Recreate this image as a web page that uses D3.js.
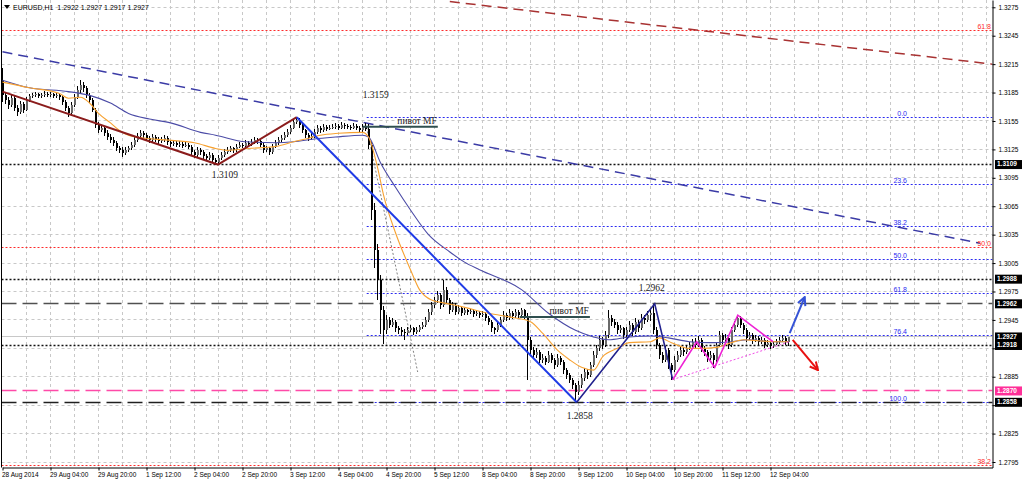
<!DOCTYPE html>
<html><head><meta charset="utf-8">
<script src="https://cdn.jsdelivr.net/npm/d3@7"></script>
<style>html,body{margin:0;padding:0;background:#fff;} svg{display:block;}</style>
</head><body><svg id="c" width="1024" height="482"></svg>
<script>
// ---------------- DATA ----------------
const symbol = "EURUSD,H1";
const timeLabels = ["28 Aug 2014","29 Aug 04:00","29 Aug 20:00","1 Sep 12:00","2 Sep 04:00","2 Sep 20:00","3 Sep 12:00","4 Sep 04:00","4 Sep 20:00","5 Sep 12:00","8 Sep 04:00","8 Sep 20:00","9 Sep 12:00","10 Sep 04:00","10 Sep 20:00","11 Sep 12:00","12 Sep 04:00"];
const timeLabelBars = [0,16,32,48,64,80,96,112,128,144,160,176,192,208,224,240,256];
const priceTicks = [1.2795,1.2825,1.2855,1.2885,1.2915,1.2945,1.2975,1.3005,1.3035,1.3065,1.3095,1.3125,1.3155,1.3185,1.3215,1.3245,1.3275];

// hourly candles [open, high, low, close]
const ohlc = [
[1.3198,1.3211,1.3175,1.3182],[1.3182,1.3186,1.3173,1.3177],[1.3177,1.3180,1.3168,1.3172],[1.3172,1.3183,1.3170,1.3179],[1.3179,1.3181,1.3165,1.3169],
[1.3169,1.3172,1.3160,1.3164],[1.3164,1.3176,1.3162,1.3173],[1.3173,1.3175,1.3163,1.3167],[1.3167,1.3180,1.3165,1.3177],[1.3177,1.3184,1.3175,1.3181],
[1.3181,1.3185,1.3179,1.3182],[1.3182,1.3186,1.3180,1.3183],[1.3183,1.3185,1.3179,1.3181],[1.3181,1.3185,1.3179,1.3182],[1.3182,1.3187,1.3180,1.3184],
[1.3184,1.3186,1.3180,1.3182],[1.3182,1.3186,1.3180,1.3183],[1.3183,1.3185,1.3179,1.3181],[1.3181,1.3185,1.3179,1.3182],[1.3182,1.3184,1.3177,1.3180],
[1.3180,1.3182,1.3172,1.3175],[1.3175,1.3177,1.3166,1.3169],[1.3169,1.3171,1.3159,1.3163],[1.3163,1.3175,1.3161,1.3172],[1.3172,1.3184,1.3170,1.3180],
[1.3180,1.3192,1.3178,1.3188],[1.3188,1.3198,1.3185,1.3193],[1.3193,1.3196,1.3186,1.3190],[1.3190,1.3192,1.3179,1.3182],[1.3182,1.3185,1.3174,1.3177],
[1.3177,1.3179,1.3164,1.3167],[1.3167,1.3169,1.3148,1.3151],[1.3151,1.3154,1.3142,1.3145],[1.3145,1.3151,1.3143,1.3148],[1.3148,1.3150,1.3139,1.3142],
[1.3142,1.3145,1.3135,1.3138],[1.3138,1.3141,1.3132,1.3135],[1.3135,1.3138,1.3129,1.3132],[1.3132,1.3134,1.3123,1.3126],[1.3126,1.3129,1.3121,1.3124],
[1.3124,1.3127,1.3117,1.3121],[1.3121,1.3127,1.3119,1.3124],[1.3124,1.3129,1.3122,1.3126],[1.3126,1.3133,1.3124,1.3130],[1.3130,1.3138,1.3128,1.3135],
[1.3135,1.3142,1.3133,1.3139],[1.3139,1.3145,1.3137,1.3142],[1.3142,1.3144,1.3137,1.3140],[1.3140,1.3142,1.3134,1.3137],[1.3137,1.3139,1.3132,1.3135],
[1.3135,1.3141,1.3133,1.3138],[1.3138,1.3140,1.3133,1.3136],[1.3136,1.3138,1.3131,1.3134],[1.3134,1.3138,1.3132,1.3135],[1.3135,1.3140,1.3133,1.3137],
[1.3137,1.3139,1.3130,1.3133],[1.3133,1.3135,1.3128,1.3131],[1.3131,1.3135,1.3129,1.3132],[1.3132,1.3134,1.3127,1.3130],[1.3130,1.3134,1.3128,1.3131],
[1.3131,1.3133,1.3126,1.3129],[1.3129,1.3133,1.3127,1.3130],[1.3130,1.3132,1.3125,1.3128],[1.3128,1.3130,1.3119,1.3122],[1.3122,1.3124,1.3116,1.3119],
[1.3119,1.3127,1.3117,1.3124],[1.3124,1.3126,1.3119,1.3122],[1.3122,1.3124,1.3115,1.3118],[1.3118,1.3120,1.3113,1.3116],[1.3116,1.3122,1.3114,1.3119],
[1.3119,1.3121,1.3111,1.3114],[1.3114,1.3116,1.3109,1.3112],[1.3112,1.3119,1.3109,1.3116],[1.3116,1.3122,1.3114,1.3119],[1.3119,1.3125,1.3117,1.3122],
[1.3122,1.3127,1.3120,1.3124],[1.3124,1.3129,1.3122,1.3126],[1.3126,1.3128,1.3121,1.3124],[1.3124,1.3131,1.3122,1.3128],[1.3128,1.3133,1.3126,1.3130],
[1.3130,1.3132,1.3126,1.3129],[1.3129,1.3135,1.3127,1.3132],[1.3132,1.3134,1.3128,1.3131],[1.3131,1.3136,1.3129,1.3133],[1.3133,1.3138,1.3131,1.3135],
[1.3135,1.3137,1.3131,1.3134],[1.3134,1.3136,1.3127,1.3130],[1.3130,1.3132,1.3121,1.3124],[1.3124,1.3129,1.3122,1.3126],[1.3126,1.3128,1.3119,1.3122],
[1.3122,1.3131,1.3120,1.3128],[1.3128,1.3135,1.3126,1.3132],[1.3132,1.3138,1.3130,1.3135],[1.3135,1.3140,1.3133,1.3137],[1.3137,1.3143,1.3135,1.3140],
[1.3140,1.3146,1.3138,1.3143],[1.3143,1.3151,1.3141,1.3148],[1.3148,1.3157,1.3146,1.3154],[1.3154,1.3159,1.3152,1.3156],[1.3156,1.3158,1.3148,1.3151],
[1.3151,1.3153,1.3142,1.3145],[1.3145,1.3147,1.3137,1.3140],[1.3140,1.3142,1.3134,1.3137],[1.3137,1.3142,1.3135,1.3139],[1.3139,1.3146,1.3137,1.3143],
[1.3143,1.3151,1.3141,1.3148],[1.3148,1.3150,1.3142,1.3145],[1.3145,1.3152,1.3143,1.3149],[1.3149,1.3151,1.3144,1.3147],[1.3147,1.3151,1.3145,1.3148],
[1.3148,1.3152,1.3146,1.3149],[1.3149,1.3153,1.3147,1.3150],[1.3150,1.3152,1.3145,1.3148],[1.3148,1.3154,1.3146,1.3151],[1.3151,1.3153,1.3147,1.3150],
[1.3150,1.3152,1.3146,1.3149],[1.3149,1.3151,1.3145,1.3148],[1.3148,1.3153,1.3146,1.3150],[1.3150,1.3152,1.3145,1.3148],[1.3148,1.3150,1.3142,1.3145],
[1.3145,1.3152,1.3143,1.3149],[1.3149,1.3153,1.3144,1.3147],[1.3147,1.3152,1.3125,1.3130],[1.3130,1.3133,1.3050,1.3061],[1.3061,1.3068,1.3000,1.3019],
[1.3019,1.3025,1.2966,1.2987],[1.2987,1.2992,1.2930,1.2955],[1.2955,1.2960,1.2920,1.2934],[1.2934,1.2950,1.2930,1.2945],[1.2945,1.2948,1.2936,1.2940],
[1.2940,1.2947,1.2937,1.2943],[1.2943,1.2945,1.2932,1.2936],[1.2936,1.2939,1.2930,1.2934],[1.2934,1.2937,1.2928,1.2932],[1.2932,1.2935,1.2924,1.2931],
[1.2931,1.2938,1.2929,1.2934],[1.2934,1.2940,1.2932,1.2936],[1.2936,1.2938,1.2929,1.2932],[1.2932,1.2937,1.2930,1.2934],[1.2934,1.2940,1.2932,1.2937],
[1.2937,1.2943,1.2935,1.2940],[1.2940,1.2948,1.2938,1.2945],[1.2945,1.2956,1.2943,1.2953],[1.2953,1.2964,1.2950,1.2961],[1.2961,1.2969,1.2958,1.2966],
[1.2966,1.2975,1.2963,1.2971],[1.2971,1.2973,1.2957,1.2961],[1.2961,1.2987,1.2959,1.2977],[1.2977,1.2980,1.2962,1.2966],[1.2966,1.2968,1.2951,1.2955],
[1.2955,1.2964,1.2953,1.2961],[1.2961,1.2963,1.2950,1.2953],[1.2953,1.2961,1.2951,1.2958],[1.2958,1.2960,1.2949,1.2952],[1.2952,1.2958,1.2950,1.2955],
[1.2955,1.2957,1.2950,1.2953],[1.2953,1.2957,1.2951,1.2954],[1.2954,1.2956,1.2948,1.2951],[1.2951,1.2955,1.2949,1.2952],[1.2952,1.2954,1.2947,1.2950],
[1.2950,1.2954,1.2948,1.2951],[1.2951,1.2953,1.2944,1.2947],[1.2947,1.2949,1.2940,1.2943],[1.2943,1.2945,1.2932,1.2936],[1.2936,1.2938,1.2930,1.2934],
[1.2934,1.2943,1.2932,1.2940],[1.2940,1.2948,1.2938,1.2945],[1.2945,1.2954,1.2943,1.2950],[1.2950,1.2952,1.2944,1.2947],[1.2947,1.2956,1.2945,1.2952],
[1.2952,1.2954,1.2946,1.2949],[1.2949,1.2957,1.2947,1.2953],[1.2953,1.2955,1.2947,1.2950],[1.2950,1.2958,1.2948,1.2955],[1.2955,1.2957,1.2946,1.2949],
[1.2949,1.2952,1.2882,1.2924],[1.2924,1.2927,1.2909,1.2913],[1.2913,1.2916,1.2904,1.2908],[1.2908,1.2915,1.2905,1.2911],[1.2911,1.2913,1.2899,1.2903],
[1.2903,1.2909,1.2900,1.2905],[1.2905,1.2907,1.2897,1.2901],[1.2901,1.2912,1.2899,1.2908],[1.2908,1.2910,1.2899,1.2903],[1.2903,1.2905,1.2893,1.2897],
[1.2897,1.2909,1.2895,1.2905],[1.2905,1.2907,1.2897,1.2901],[1.2901,1.2903,1.2888,1.2892],[1.2892,1.2894,1.2883,1.2887],[1.2887,1.2889,1.2878,1.2882],
[1.2882,1.2884,1.2872,1.2876],[1.2876,1.2878,1.2858,1.2869],[1.2869,1.2880,1.2866,1.2876],[1.2876,1.2888,1.2873,1.2884],[1.2884,1.2894,1.2881,1.2890],
[1.2890,1.2893,1.2883,1.2887],[1.2887,1.2901,1.2885,1.2897],[1.2897,1.2912,1.2895,1.2908],[1.2908,1.2919,1.2905,1.2915],[1.2915,1.2928,1.2912,1.2924],
[1.2924,1.2927,1.2914,1.2918],[1.2918,1.2933,1.2916,1.2929],[1.2929,1.2955,1.2926,1.2947],[1.2947,1.2950,1.2939,1.2943],[1.2943,1.2946,1.2936,1.2940],
[1.2940,1.2943,1.2930,1.2934],[1.2934,1.2940,1.2931,1.2936],[1.2936,1.2938,1.2925,1.2929],[1.2929,1.2938,1.2927,1.2934],[1.2934,1.2944,1.2932,1.2940],
[1.2940,1.2942,1.2928,1.2932],[1.2932,1.2947,1.2930,1.2943],[1.2943,1.2945,1.2932,1.2936],[1.2936,1.2951,1.2934,1.2947],[1.2947,1.2950,1.2941,1.2945],
[1.2945,1.2954,1.2943,1.2950],[1.2950,1.2955,1.2944,1.2952],[1.2952,1.2962,1.2930,1.2934],[1.2934,1.2937,1.2914,1.2918],[1.2918,1.2921,1.2904,1.2908],
[1.2908,1.2911,1.2899,1.2903],[1.2903,1.2917,1.2901,1.2913],[1.2913,1.2915,1.2893,1.2897],[1.2897,1.2899,1.2882,1.2892],[1.2892,1.2907,1.2890,1.2903],
[1.2903,1.2912,1.2901,1.2908],[1.2908,1.2917,1.2906,1.2913],[1.2913,1.2916,1.2907,1.2911],[1.2911,1.2919,1.2909,1.2915],[1.2915,1.2922,1.2913,1.2918],
[1.2918,1.2925,1.2916,1.2922],[1.2922,1.2926,1.2914,1.2918],[1.2918,1.2928,1.2916,1.2924],[1.2924,1.2926,1.2911,1.2915],[1.2915,1.2917,1.2907,1.2911],
[1.2911,1.2913,1.2901,1.2905],[1.2905,1.2912,1.2903,1.2908],[1.2908,1.2910,1.2894,1.2903],[1.2903,1.2922,1.2901,1.2918],[1.2918,1.2933,1.2916,1.2929],
[1.2929,1.2931,1.2920,1.2924],[1.2924,1.2930,1.2922,1.2926],[1.2926,1.2928,1.2914,1.2918],[1.2918,1.2938,1.2916,1.2934],[1.2934,1.2944,1.2932,1.2940],
[1.2940,1.2950,1.2938,1.2947],[1.2947,1.2949,1.2936,1.2940],[1.2940,1.2942,1.2930,1.2934],[1.2934,1.2936,1.2922,1.2926],[1.2926,1.2932,1.2924,1.2929],
[1.2929,1.2931,1.2920,1.2924],[1.2924,1.2929,1.2922,1.2926],[1.2926,1.2928,1.2918,1.2922],[1.2922,1.2927,1.2920,1.2924],[1.2924,1.2926,1.2915,1.2918],
[1.2918,1.2924,1.2916,1.2921],[1.2921,1.2923,1.2914,1.2917],[1.2917,1.2923,1.2915,1.2920],[1.2920,1.2925,1.2918,1.2922],[1.2922,1.2927,1.2920,1.2924],
[1.2924,1.2929,1.2922,1.2926],[1.2926,1.2928,1.2919,1.2922],[1.2922,1.2927,1.2917,1.2927]
];

// moving averages: [bar, price]
const fastMA = [[0,1.3196],[9,1.3190],[19,1.3184],[22,1.3179],[26,1.3180],[29,1.3174],[32,1.3163],[36,1.3153],[39,1.3145],[42,1.3140],[47,1.3137],[54,1.3135],[64,1.3132],[71,1.3126],[75,1.3124],[82,1.3126],[91,1.3128],[97,1.3133],[101,1.3136],[106,1.3140],[112,1.3142],[120,1.3143],[122,1.3138],[125,1.3106],[127,1.3077],[131,1.3037],[136,1.2998],[139,1.2977],[143,1.2966],[147,1.2963],[153,1.2959],[162,1.2952],[171,1.2947],[176,1.2943],[180,1.2931],[185,1.2913],[189,1.2903],[193,1.2895],[197,1.2892],[200,1.2906],[205,1.2915],[209,1.2921],[216,1.2922],[219,1.2926],[223,1.2921],[229,1.2915],[233,1.2915],[238,1.2916],[243,1.2921],[247,1.2924],[252,1.2923],[258,1.2922],[262,1.2922]];
const slowMA = [[0,1.3198],[9,1.3190],[22,1.3186],[29,1.3182],[36,1.3174],[42,1.3163],[49,1.3157],[56,1.3153],[66,1.3143],[71,1.3140],[81,1.3133],[91,1.3132],[97,1.3133],[104,1.3136],[111,1.3138],[120,1.3140],[122,1.3138],[126,1.3111],[131,1.3085],[136,1.3061],[142,1.3035],[149,1.3017],[154,1.3006],[159,1.2998],[173,1.2977],[182,1.2952],[191,1.2934],[197,1.2927],[202,1.2924],[209,1.2927],[216,1.2928],[222,1.2926],[229,1.2922],[236,1.2921],[243,1.2922],[249,1.2924],[256,1.2922],[262,1.2922]];

// horizontal levels
const dottedLevels = [1.3109, 1.2988, 1.2918];
const greyDashLevel = 1.2962;
const pinkDashLevel = 1.2870;
const blackDashLevel = 1.2858;
const bidLevel = 1.2927;
const axisBoxes = [1.3109, 1.2988, 1.2962, 1.2927, 1.2918, 1.2858];
const pinkBox = 1.2870;

// Fibonacci (blue) from swing high to swing low
const fibHigh = 1.3159, fibLow = 1.2858, fibStartBar = 121.4, fibLabelBar = 301.5;
const fibLevels = [0.0, 23.6, 38.2, 50.0, 61.8, 76.4, 100.0];
// Fibonacci (red, larger) levels visible on chart
const redFibLevels = [61.8, 50.0, 38.2];
const redFibPrices = [1.3250, 1.3021, 1.2791];

// trend lines & zigzags [bar, price]
const channelLine = [[0,1.3228],[325.8,1.3026]];
const upperTrend = [[149.1,1.3281],[330,1.3215]];
const brownZigzag = [[0,1.3186],[71.8,1.3109],[98.1,1.3159]];
const blueLeg = [[98.1,1.3159],[191.4,1.2858]];
const navyZigzag = [[191.4,1.2858],[217.4,1.2962],[223.4,1.2882]];
const magentaZigzag = [[223.4,1.2882],[231.4,1.2922],[237.4,1.2895],[245.1,1.2950],[256.8,1.2922]];
const magentaSupport = [[223.4,1.2882],[262.4,1.2922]];
const greyProjection = [[121.4,1.3148],[138.4,1.2890]];
const upArrow = [[262.4,1.2931],[267.4,1.2969]];
const downArrow = [[263.4,1.2924],[271.8,1.2892]];
const pivotLines = [[120.1,145.1,1.3149],[172.4,195.8,1.2948]];
const pivotText = "пивот MF";
const swingPoints = [[98.1,1.3159],[71.8,1.3109],[217.4,1.2962],[191.4,1.2858]];

// ---------------- DRAWING ----------------
const svg = d3.select("#c");
const W = 1024, H = 482;
const x = d3.scaleLinear().domain([0, 330]).range([2.5, 992.5]);
const y = d3.scaleLinear().domain([1.27892, 1.32827]).range([467.5, 0]);
const cy = p => Math.round(y(p) - 0.5) + 0.5;
const SANS = "'Liberation Sans', Arial, sans-serif";
const SERIF = "'Liberation Serif', 'Times New Roman', serif";

svg.append("rect").attr("width", W).attr("height", H).attr("fill", "#fff");
const defs = svg.append("defs");
defs.append("clipPath").attr("id", "clip").append("rect")
  .attr("x", 1.5).attr("y", 0).attr("width", 991).attr("height", 467.5);
function marker(id, col) {
  defs.append("marker").attr("id", id).attr("markerUnits", "userSpaceOnUse")
    .attr("viewBox", "0 0 10 10").attr("refX", 9).attr("refY", 5)
    .attr("markerWidth", 10).attr("markerHeight", 10).attr("orient", "auto")
    .append("path").attr("d", "M1,1 L9,5 L1,9").attr("fill", "none")
    .attr("stroke", col).attr("stroke-width", 2);
}
marker("arrBlue", "#3553d6");
marker("arrRed", "#e81010");

const plot = svg.append("g").attr("clip-path", "url(#clip)");

// grid
plot.append("g").selectAll("line").data(d3.range(8, 330, 8)).join("line")
  .attr("x1", d => x(d)).attr("x2", d => x(d)).attr("y1", 0).attr("y2", 467.5)
  .attr("stroke", "#c8c8c8").attr("stroke-dasharray", "3,3");
plot.append("g").selectAll("line").data(priceTicks).join("line")
  .attr("x1", 1.5).attr("x2", 992.5).attr("y1", d => cy(d)).attr("y2", d => cy(d))
  .attr("stroke", "#c8c8c8").attr("stroke-dasharray", "3,3");

function hline(p, x0, col, dash, w) {
  plot.append("line").attr("x1", x0).attr("x2", 992.5).attr("y1", cy(p)).attr("y2", cy(p))
    .attr("stroke", col).attr("stroke-width", w || 1).attr("stroke-dasharray", dash || null);
}
// red fib
redFibPrices.forEach(p => hline(p, 1.5, "#ff2a2a", "2,2"));
// bid
hline(bidLevel, 1.5, "#c8c8c8", null, 1);
// blue fib
fibLevels.forEach(l => hline(fibHigh - (fibHigh - fibLow) * l / 100, x(fibStartBar), "#2b2bf0", "2,2"));
// levels
dottedLevels.forEach(p => hline(p, 1.5, "#111", "2,2", 1.3));
hline(greyDashLevel, 1.5, "#505050", "15,6", 1.6);
hline(pinkDashLevel, 1.5, "#ff4aa8", "15,6", 1.6);
hline(blackDashLevel, 1.5, "#202020", "15,6", 1.4);

const line = d3.line().x(d => x(d[0])).y(d => y(d[1]));
const smooth = d3.line().x(d => x(d[0])).y(d => y(d[1])).curve(d3.curveMonotoneX);

plot.append("path").attr("d", line(channelLine)).attr("fill", "none")
  .attr("stroke", "#3b3ba6").attr("stroke-width", 1.5).attr("stroke-dasharray", "10,6");
plot.append("path").attr("d", line(upperTrend)).attr("fill", "none")
  .attr("stroke", "#a83232").attr("stroke-width", 1.5).attr("stroke-dasharray", "10,6");
plot.append("path").attr("d", line(greyProjection)).attr("fill", "none")
  .attr("stroke", "#808080").attr("stroke-width", 1).attr("stroke-dasharray", "2,2");

// candles
const cg = plot.append("g").attr("shape-rendering", "crispEdges");
cg.selectAll("line").data(ohlc).join("line")
  .attr("x1", (d, i) => x(i)).attr("x2", (d, i) => x(i))
  .attr("y1", d => y(d[1])).attr("y2", d => y(d[2]))
  .attr("stroke", "#000").attr("stroke-width", 1);
cg.selectAll("rect").data(ohlc).join("rect")
  .attr("x", (d, i) => x(i) - 0.5).attr("width", 2)
  .attr("y", d => y(Math.max(d[0], d[3])))
  .attr("height", d => Math.max(1, Math.abs(y(d[0]) - y(d[3]))))
  .attr("fill", d => d[3] >= d[0] ? "#6a6a6a" : "#000");

// moving averages
plot.append("path").attr("d", smooth(slowMA)).attr("fill", "none")
  .attr("stroke", "#4b4ba6").attr("stroke-width", 1.1);
plot.append("path").attr("d", smooth(fastMA)).attr("fill", "none")
  .attr("stroke", "#f7a232").attr("stroke-width", 1.1);

// zigzags
plot.append("path").attr("d", line(brownZigzag)).attr("fill", "none")
  .attr("stroke", "#8b1c1c").attr("stroke-width", 2);
plot.append("path").attr("d", line(blueLeg)).attr("fill", "none")
  .attr("stroke", "#1f3be6").attr("stroke-width", 2);
plot.append("path").attr("d", line(navyZigzag)).attr("fill", "none")
  .attr("stroke", "#22228e").attr("stroke-width", 1.6);
plot.append("path").attr("d", line(magentaSupport)).attr("fill", "none")
  .attr("stroke", "#f04ae6").attr("stroke-width", 1).attr("stroke-dasharray", "2,2");
plot.append("path").attr("d", line(magentaZigzag)).attr("fill", "none")
  .attr("stroke", "#ee22d4").attr("stroke-width", 1.6);

// arrows
plot.append("path").attr("d", line(upArrow)).attr("fill", "none")
  .attr("stroke", "#3553d6").attr("stroke-width", 2).attr("marker-end", "url(#arrBlue)");
plot.append("path").attr("d", line(downArrow)).attr("fill", "none")
  .attr("stroke", "#e81010").attr("stroke-width", 2).attr("marker-end", "url(#arrRed)");

// pivot lines
pivotLines.forEach(pl => {
  plot.append("line").attr("x1", x(pl[0])).attr("x2", x(pl[1]))
    .attr("y1", y(pl[2])).attr("y2", y(pl[2]))
    .attr("stroke", "#2f4f4f").attr("stroke-width", 2);
  plot.append("text").attr("x", x(pl[1]) - 1).attr("y", y(pl[2]) - 3)
    .attr("text-anchor", "end").attr("font-family", SERIF).attr("font-size", 9.5)
    .attr("fill", "#1a1a1a").text(pivotText);
});

// swing labels
const swingOffsets = [[79, -21], [7, 11], [-3, -15], [3, 14]];
swingPoints.forEach((s, k) => {
  plot.append("text").attr("x", x(s[0]) + swingOffsets[k][0]).attr("y", y(s[1]) + swingOffsets[k][1])
    .attr("text-anchor", "middle").attr("dominant-baseline", "middle")
    .attr("font-family", SERIF).attr("font-size", 9.5).attr("fill", "#1a1a1a")
    .text(d3.format(".4f")(s[1]));
});

// fib labels
fibLevels.forEach(l => {
  plot.append("text").attr("x", x(fibLabelBar)).attr("y", y(fibHigh - (fibHigh - fibLow) * l / 100) - 1.5)
    .attr("text-anchor", "end").attr("font-family", SANS).attr("font-size", 7)
    .attr("fill", "#2b2bf0").text(d3.format(".1f")(l));
});
redFibLevels.forEach((l, k) => {
  plot.append("text").attr("x", 991).attr("y", y(redFibPrices[k]) - 1.5)
    .attr("text-anchor", "end").attr("font-family", SANS).attr("font-size", 7)
    .attr("fill", "#ff2a2a").text(d3.format(".1f")(l));
});

// frame
svg.append("line").attr("x1", 1.5).attr("x2", 1.5).attr("y1", 0).attr("y2", 467.5).attr("stroke", "#000");

// right axis
const allBoxes = axisBoxes.concat([pinkBox]);
const ya = svg.append("g").attr("transform", "translate(992.5,0)")
  .call(d3.axisRight(y).tickValues(priceTicks).tickSize(3).tickSizeOuter(0).tickPadding(3)
    .tickFormat(d3.format(".4f")));
ya.attr("font-size", 6.5).attr("font-family", SANS);
ya.selectAll(".tick text").attr("fill", "#000")
  .attr("opacity", d => allBoxes.some(b => Math.abs(y(b) - y(d)) < 7) ? 0 : 1);
ya.select(".domain").attr("stroke", "#000");

// bottom axis
const xa = svg.append("g").attr("transform", "translate(0,467.5)")
  .call(d3.axisBottom(x).tickValues(timeLabelBars).tickSize(3).tickSizeOuter(0).tickPadding(2)
    .tickFormat((d, i) => timeLabels[i]));
xa.attr("font-size", 6.5).attr("font-family", SANS);
xa.selectAll(".tick text").attr("text-anchor", "start").attr("dx", -1).attr("fill", "#000");
xa.select(".domain").attr("stroke", "#000");

// axis boxes
function box(p, fill) {
  const g = svg.append("g");
  g.append("rect").attr("x", 995).attr("y", y(p) - 4.5).attr("width", 27).attr("height", 9).attr("fill", fill);
  g.append("text").attr("x", 997).attr("y", y(p)).attr("dominant-baseline", "middle")
    .attr("font-family", SANS).attr("font-size", 6.5).attr("font-weight", "bold")
    .attr("fill", "#fff").text(d3.format(".4f")(p));
}
axisBoxes.forEach(p => box(p, "#000"));
box(pinkBox, "#ff2f98");

// title
const last = ohlc[ohlc.length - 1];
svg.append("path").attr("d", "M4,5 L10,5 L7,9 Z").attr("fill", "#000");
svg.append("text").attr("x", 13).attr("y", 10).attr("font-family", SANS).attr("font-size", 7)
  .attr("fill", "#000").attr("xml:space", "preserve")
  .text(symbol + "  " + last.map(v => d3.format(".4f")(v)).join(" "));
</script>
</body></html>
